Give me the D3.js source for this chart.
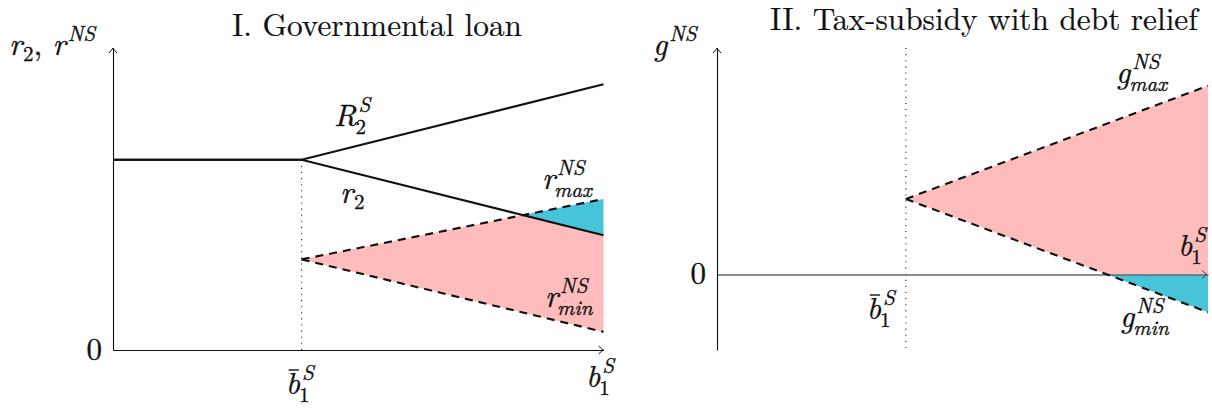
<!DOCTYPE html>
<html><head><meta charset="utf-8">
<script src="https://cdn.jsdelivr.net/npm/d3@7"></script>
<style>
html,body{margin:0;padding:0;background:#fff;}
svg{display:block;}
</style></head><body>
<svg id="chart" width="1212" height="408"></svg>
<script>
// ---- data ----
const xDomain = [0, 2.6];          // b_1^S, axis origin to right edge
const bBar = 1;                     // threshold \bar b_1^S
// Panel I: governmental loan
const loanDomain = [0, 10];
const R2S  = [[0, 6.3], [1, 6.3], [2.6, 8.8]];
const r2   = [[0, 6.3], [1, 6.3], [2.6, 3.8]];
const rMax = [[1, 3.0], [2.6, 5.0]];
const rMin = [[1, 3.0], [2.6, 0.6]];
// Panel II: tax-subsidy with debt relief
const taxDomain = [-2.5, 7.5];
const gMax = [[1, 2.5], [2.6, 6.25]];
const gMin = [[1, 2.5], [2.6, -1.25]];
const titles = ["I. Governmental loan", "II. Tax-subsidy with debt relief"];

const PINK = "#ffbcbc", CYAN = "#47c3da";
const FONT = '"Latin Modern Roman", "Liberation Serif", serif';
const MAIN = 31, SCRIPT = 21;
const INK = "#111";

const svg = d3.select("#chart");

// intersection of two straight segments given as [[x0,y0],[x1,y1]]
function cross(a, b) {
  const sa = (a[1][1] - a[0][1]) / (a[1][0] - a[0][0]);
  const sb = (b[1][1] - b[0][1]) / (b[1][0] - b[0][0]);
  const x = (b[0][1] - a[0][1] + sa * a[0][0] - sb * b[0][0]) / (sa - sb);
  return [x, a[0][1] + sa * (x - a[0][0])];
}

function txt(parent, x, y, size, italic, s) {
  return parent.append("text").attr("x", x).attr("y", y)
    .style("font-family", FONT).style("font-size", size + "px")
    .style("font-style", italic ? "italic" : "normal")
    .style("white-space", "pre").attr("fill", INK)
    .attr("stroke", INK).attr("stroke-width", 0.35).text(s);
}

// math-style label: groups of {base, bar, sub, sup, upright}
function mathLabel(parent, x, y, groups, anchor = "start") {
  const g = parent.append("g");
  let cx = 0;
  groups.forEach(gr => {
    const t = txt(g, cx, 0, MAIN, !gr.upright, gr.base);
    const w = t.node().getComputedTextLength();
    if (gr.bar) {
      g.append("line").attr("x1", cx + 3).attr("x2", cx + w - 1)
        .attr("y1", -24).attr("y2", -24)
        .attr("stroke", INK).attr("stroke-width", 1.4);
    }
    if (!gr.sub && !gr.sup) { cx += w; return; }
    const sx = cx + w + (gr.upright ? 0 : 1);
    let sw = 0;
    const both = gr.sub && gr.sup;
    if (gr.sup) {
      const s = txt(g, sx + 1, -14, SCRIPT, true, gr.sup);
      sw = Math.max(sw, s.node().getComputedTextLength() + 1);
    }
    if (gr.sub) {
      const s = txt(g, sx - (both ? 2 : 0), both ? 8 : 6, SCRIPT,
        !/^\d+$/.test(gr.sub), gr.sub);
      sw = Math.max(sw, s.node().getComputedTextLength());
    }
    cx = sx + sw;
  });
  const dx = anchor === "middle" ? -cx / 2 : anchor === "end" ? -cx : 0;
  g.attr("transform", `translate(${x + dx},${y})`);
  return g;
}

function arrowHead(parent, x, y, dir) {
  // small open arrow tip; dir "right" or "up"
  const p = d3.path();
  if (dir === "right") {
    p.moveTo(x - 5, y - 4); p.quadraticCurveTo(x - 1.5, y - 0.8, x, y);
    p.quadraticCurveTo(x - 1.5, y + 0.8, x - 5, y + 4);
  } else {
    p.moveTo(x - 4, y + 5); p.quadraticCurveTo(x - 0.8, y + 1.5, x, y);
    p.quadraticCurveTo(x + 0.8, y + 1.5, x + 4, y + 5);
  }
  return parent.append("path").attr("d", p.toString())
    .attr("fill", "none").attr("stroke", INK).attr("stroke-width", 1);
}

// panel title, sized so that its natural width spans `len` pixels
function title(text, x, y, len) {
  const t = txt(svg, x, y, 28, false, text).attr("text-anchor", "middle")
    .attr("stroke-width", 0.2);
  const w = t.node().getComputedTextLength();
  t.style("font-size", (28 * len / w).toFixed(2) + "px");
}

const line = (x, y) => d3.line().x(d => x(d[0])).y(d => y(d[1]));

// ================= Panel I =================
{
  const g = svg.append("g");
  const x = d3.scaleLinear().domain(xDomain).range([113, 603.5]);
  const y = d3.scaleLinear().domain(loanDomain).range([350, 48]);
  const L = line(x, y);
  const r2Tail = r2.slice(1);
  const P = cross(r2Tail, rMax);
  const end = xDomain[1];
  const last = (seg) => seg[seg.length - 1][1];

  // pink region between r_min and min(r_max, r_2)
  g.append("path").attr("fill", PINK)
    .attr("d", L([rMax[0], P, [end, last(r2)], [end, last(rMin)], rMin[0]]) + "Z");
  // cyan region above r_2, below r_max
  g.append("path").attr("fill", CYAN)
    .attr("d", L([P, [end, last(rMax)], [end, last(r2)]]) + "Z");

  // dotted guide at \bar b
  g.append("line").attr("x1", x(bBar)).attr("x2", x(bBar))
    .attr("y1", y(R2S[1][1])).attr("y2", y(0))
    .attr("stroke", "#222").attr("stroke-width", 1.1).attr("stroke-dasharray", "1.1,5");

  // axes
  const ax = g.append("g").attr("transform", `translate(0,${y(0)})`)
    .call(d3.axisBottom(x).tickValues([]).tickSizeOuter(0));
  ax.select(".domain").attr("stroke", INK).attr("stroke-width", 1.1);
  const ay = g.append("g").attr("transform", `translate(${x(0)},0)`)
    .call(d3.axisLeft(y).tickValues([]).tickSizeOuter(0));
  ay.select(".domain").attr("stroke", INK).attr("stroke-width", 1.1);
  arrowHead(g, x(end), y(0), "right");
  arrowHead(g, x(0), y(loanDomain[1]), "up");

  // dashed bounds
  [rMax, rMin].forEach(s => g.append("path").attr("d", L(s)).attr("fill", "none")
    .attr("stroke", INK).attr("stroke-width", 2.1).attr("stroke-dasharray", "8,6"));
  // solid rates
  [R2S, r2].forEach(s => g.append("path").attr("d", L(s)).attr("fill", "none")
    .attr("stroke", INK).attr("stroke-width", 2.2));

  title(titles[0], 377, 36, 290);
  mathLabel(svg, 9, 55, [{base: "r", sub: "2"}, {base: ", ", upright: true}, {base: "r", sup: "NS"}]);
  txt(svg, 102, 360, MAIN, false, "0").attr("text-anchor", "end");
  mathLabel(svg, x(bBar) - 16, 394, [{base: "b", bar: true, sub: "1", sup: "S"}]);
  mathLabel(svg, 586, 387, [{base: "b", sub: "1", sup: "S"}]);
  mathLabel(svg, 334, 126, [{base: "R", sub: "2", sup: "S"}]);
  mathLabel(svg, 340, 203, [{base: "r", sub: "2"}]);
  mathLabel(svg, 542, 189, [{base: "r", sub: "max", sup: "NS"}]);
  mathLabel(svg, 545, 307, [{base: "r", sub: "min", sup: "NS"}]);
}

// ================= Panel II =================
{
  const g = svg.append("g");
  const x = d3.scaleLinear().domain(xDomain).range([717, 1208]);
  const y = d3.scaleLinear().domain(taxDomain).range([350, 48]);
  const L = line(x, y);
  const end = xDomain[1];
  const zero = [[xDomain[0], 0], [end, 0]];
  const Z = cross(gMin, zero);

  g.append("path").attr("fill", PINK)
    .attr("d", L([gMax[0], gMax[1], [end, 0], Z]) + "Z");
  g.append("path").attr("fill", CYAN)
    .attr("d", L([Z, [end, 0], gMin[1]]) + "Z");

  g.append("line").attr("x1", x(bBar)).attr("x2", x(bBar))
    .attr("y1", y(taxDomain[1])).attr("y2", y(taxDomain[0]))
    .attr("stroke", "#222").attr("stroke-width", 1.1).attr("stroke-dasharray", "1.1,5");

  const ax = g.append("g").attr("transform", `translate(0,${y(0)})`)
    .call(d3.axisBottom(x).tickValues([]).tickSizeOuter(0));
  ax.select(".domain").attr("stroke", "#6a6a6a").attr("stroke-width", 1.6);
  const ay = g.append("g").attr("transform", `translate(${x(0)},0)`)
    .call(d3.axisLeft(y).tickValues([]).tickSizeOuter(0));
  ay.select(".domain").attr("stroke", INK).attr("stroke-width", 1.1);
  arrowHead(g, x(end) - 1, y(0), "right").attr("stroke", "#444");
  arrowHead(g, x(0), y(taxDomain[1]), "up");

  [gMax, gMin].forEach(s => g.append("path").attr("d", L(s)).attr("fill", "none")
    .attr("stroke", INK).attr("stroke-width", 2.1).attr("stroke-dasharray", "8,6"));

  title(titles[1], 984, 30, 428);
  mathLabel(svg, 653, 55, [{base: "g", sup: "NS"}]);
  txt(svg, 706, 284, MAIN, false, "0").attr("text-anchor", "end");
  mathLabel(svg, x(bBar) - 39, 319, [{base: "b", bar: true, sub: "1", sup: "S"}]);
  mathLabel(svg, 1178, 256, [{base: "b", sub: "1", sup: "S"}]);
  mathLabel(svg, 1116, 83, [{base: "g", sub: "max", sup: "NS"}]);
  mathLabel(svg, 1120, 327, [{base: "g", sub: "min", sup: "NS"}]);
}
</script>
</body></html>
